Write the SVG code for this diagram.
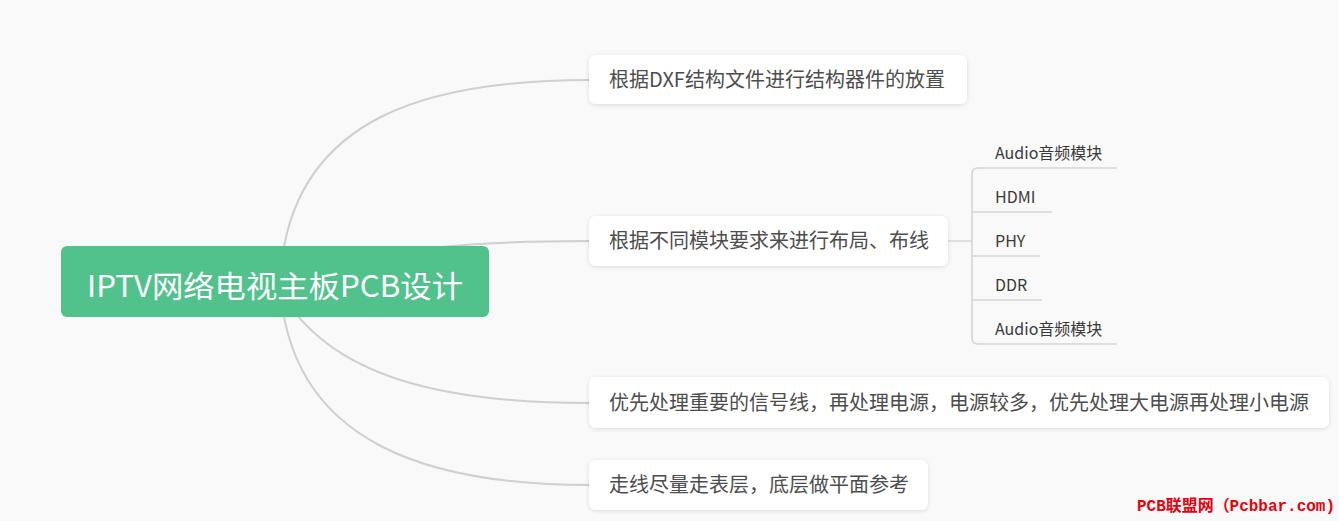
<svg xmlns="http://www.w3.org/2000/svg" width="1339" height="521" viewBox="0 0 1339 521">
<defs>
<filter id="sh" x="-10%" y="-30%" width="120%" height="160%">
<feDropShadow dx="0" dy="1" stdDeviation="2" flood-color="#000" flood-opacity="0.12"/>
</filter>
<style>
.conn{fill:none;stroke:#cfcfcf;stroke-width:2}
.sub{fill:none;stroke:#d4d4d4;stroke-width:1.5}
.box{fill:#ffffff;filter:url(#sh)}
.t{font-family:"Microsoft YaHei","Noto Sans CJK SC",sans-serif;font-size:20px;fill:#4d4d4d}
.s{font-family:"Microsoft YaHei","Noto Sans CJK SC",sans-serif;font-size:16px;fill:#3a3a3a}
</style>
</defs>
<rect width="1339" height="521" fill="#f9f9f9"/>
<g id="connectors">
<path class="conn" d="M280,282 C288,110 440,80 590,80"/>
<path class="conn" d="M280,282 C380,246 480,241 590,241"/>
<path class="conn" d="M280,290 C330,380 450,403 590,403"/>
<path class="conn" d="M280,282 C288,450 440,485 590,485"/>
<path class="sub" d="M948,241 H972"/>
<path class="sub" d="M1117,168 H978 Q972,168 972,174 V338 Q972,344 978,344 H1117"/>
<path class="sub" d="M972,212 H1052"/>
<path class="sub" d="M972,256 H1040"/>
<path class="sub" d="M972,300 H1042"/>
</g>
<g id="root">
<rect x="61" y="246" width="428" height="71" rx="6" fill="#52c28d"/>
<text x="87" y="297" textLength="376" lengthAdjust="spacingAndGlyphs" font-family="Microsoft YaHei, Noto Sans CJK SC, sans-serif" font-size="30" fill="#ffffff">IPTV网络电视主板PCB设计</text>
</g>
<g id="n1">
<rect class="box" x="589" y="55" width="378" height="49" rx="7"/>
<text class="t" x="609" y="87">根据DXF结构文件进行结构器件的放置</text>
</g>
<g id="n2">
<rect class="box" x="589" y="216" width="359" height="50" rx="7"/>
<text class="t" x="609" y="248">根据不同模块要求来进行布局、布线</text>
</g>
<g id="n3">
<rect class="box" x="589" y="377" width="740" height="51" rx="7"/>
<text class="t" x="609" y="410">优先处理重要的信号线，再处理电源，电源较多，优先处理大电源再处理小电源</text>
</g>
<g id="n4">
<rect class="box" x="589" y="460" width="339" height="50" rx="7"/>
<text class="t" x="609" y="492">走线尽量走表层，底层做平面参考</text>
</g>
<g id="s1"><text class="s" x="995" y="159">Audio音频模块</text></g>
<g id="s2"><text class="s" x="995" y="203">HDMI</text></g>
<g id="s3"><text class="s" x="995" y="247">PHY</text></g>
<g id="s4"><text class="s" x="995" y="291">DDR</text></g>
<g id="s5"><text class="s" x="995" y="335">Audio音频模块</text></g>
<text x="1137" y="511" textLength="198" lengthAdjust="spacingAndGlyphs" font-family="Liberation Mono, Noto Sans CJK SC, monospace" font-size="16" font-weight="bold" fill="#e8000b">PCB联盟网（Pcbbar.com)</text>
</svg>
